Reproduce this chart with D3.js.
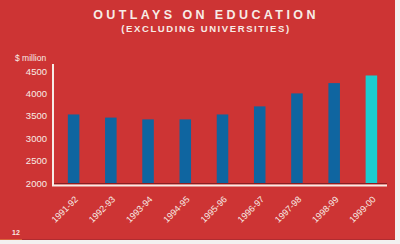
<!DOCTYPE html>
<html>
<head>
<meta charset="utf-8">
<script src="https://cdn.jsdelivr.net/npm/d3@7"></script>
<style>
  html, body { margin: 0; padding: 0; background: #f3f0f0; }
  svg { display: block; font-family: "Liberation Sans", Arial, sans-serif; }
</style>
</head>
<body>
<svg width="400" height="244"></svg>
<script>
var years = ["1991-92", "1992-93", "1993-94", "1994-95", "1995-96", "1996-97", "1997-98", "1998-99", "1999-00"];
var outlays = [3530, 3460, 3420, 3420, 3530, 3710, 4000, 4230, 4400];
var yTicks = [2000, 2500, 3000, 3500, 4000, 4500];

var svg = d3.select("svg");
var ink = "#f7ece6";

// page panel
svg.append("rect")
	.attr("width", 400).attr("height", 244)
	.attr("fill", "#f3f0f0");
svg.append("rect")
	.attr("width", 395).attr("height", 240)
	.attr("fill", "#cd3434");
svg.append("line")
	.attr("x1", 0).attr("x2", 395)
	.attr("y1", 239.5).attr("y2", 239.5)
	.attr("stroke", "#b02c30").attr("stroke-width", 1);
svg.append("line")
	.attr("x1", 0).attr("x2", 22)
	.attr("y1", 239.5).attr("y2", 239.5)
	.attr("stroke", "#d8643c").attr("stroke-width", 1);

// title
svg.append("text")
	.attr("x", 206).attr("y", 19)
	.attr("text-anchor", "middle")
	.attr("fill", ink)
	.style("font-size", "12.5px").style("font-weight", "bold")
	.style("letter-spacing", "3.4px")
	.text("OUTLAYS ON EDUCATION");

svg.append("text")
	.attr("x", 206).attr("y", 32)
	.attr("text-anchor", "middle")
	.attr("fill", ink)
	.style("font-size", "9.5px").style("font-weight", "bold")
	.style("letter-spacing", "1.6px")
	.text("(EXCLUDING UNIVERSITIES)");

svg.append("text")
	.attr("x", 15).attr("y", 61)
	.attr("fill", ink)
	.style("font-size", "8.5px")
	.text("$ million");

var xScale = d3.scaleBand()
	.domain(years)
	.range([55, 390])
	.paddingInner(0.69)
	.paddingOuter(0.345);

var yScale = d3.scaleLinear()
	.domain([2000, 4500])
	.range([183, 71]);

var yAxis = d3.axisLeft(yScale)
	.tickValues(yTicks)
	.tickSize(0)
	.tickPadding(6)
	.tickFormat(d3.format("d"));

var gy = svg.append("g")
	.attr("transform", "translate(53,0)")
	.call(yAxis);
gy.select(".domain").remove();
gy.selectAll("text")
	.attr("fill", ink)
	.style("font-size", "9.5px")
	.style("font-family", "'Liberation Sans', Arial, sans-serif");

// bars
svg.selectAll(".bar")
	.data(outlays)
	.enter().append("rect")
		.attr("class", "bar")
		.attr("x", function (d, i) { return xScale(years[i]); })
		.attr("width", xScale.bandwidth())
		.attr("y", function (d) { return yScale(d); })
		.attr("height", function (d) { return yScale(2000) - yScale(d); })
		.attr("fill", function (d, i) { return i == years.length - 1 ? "#1ccdd0" : "#0f65a0"; });

// axis lines
svg.append("line")
	.attr("x1", 53).attr("x2", 387)
	.attr("y1", 183.5).attr("y2", 183.5)
	.attr("stroke", "#8a1e22").attr("stroke-width", 1);
svg.append("line")
	.attr("x1", 52).attr("x2", 387)
	.attr("y1", 185.5).attr("y2", 185.5)
	.attr("stroke", ink).attr("stroke-width", 2);
svg.append("line")
	.attr("x1", 53).attr("x2", 53)
	.attr("y1", 64).attr("y2", 186)
	.attr("stroke", ink).attr("stroke-width", 2);

var xAxis = d3.axisBottom(xScale).tickSize(0).tickPadding(0);
var gx = svg.append("g")
	.attr("transform", "translate(0,186)")
	.call(xAxis);
gx.select(".domain").remove();
gx.selectAll("text")
	.attr("fill", ink)
	.style("font-size", "9px")
	.style("font-family", "'Liberation Sans', Arial, sans-serif")
	.style("text-anchor", "end")
	.attr("dy", 0)
	.attr("y", 0)
	.attr("transform", "translate(5,14) rotate(-45)");

// page number
svg.append("text")
	.attr("x", 12).attr("y", 235)
	.attr("fill", ink)
	.style("font-size", "7px")
	.style("font-weight", "bold")
	.text("12");
</script>
</body>
</html>
